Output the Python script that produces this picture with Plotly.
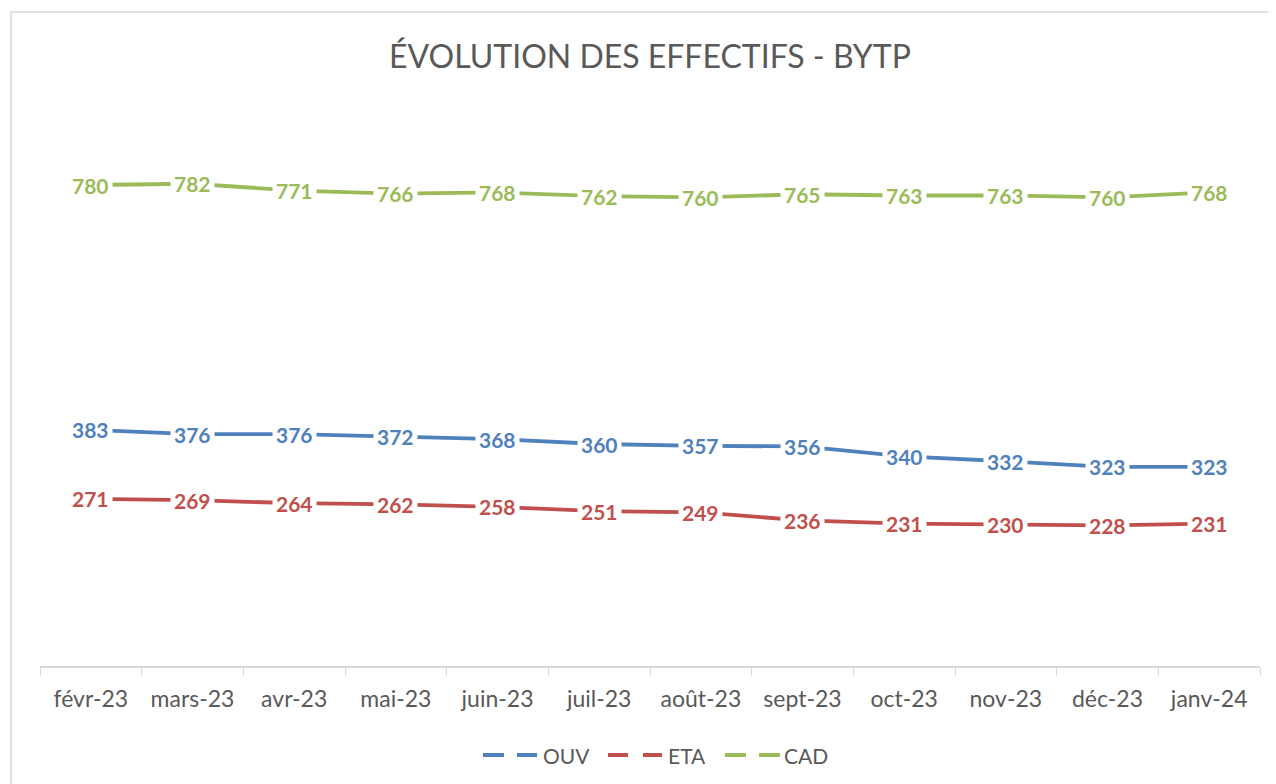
import plotly.graph_objects as go

months = ["févr-23", "mars-23", "avr-23", "mai-23", "juin-23", "juil-23",
          "août-23", "sept-23", "oct-23", "nov-23", "déc-23", "janv-24"]
ouv = [383, 376, 376, 372, 368, 360, 357, 356, 340, 332, 323, 323]
eta = [271, 269, 264, 262, 258, 251, 249, 236, 231, 230, 228, 231]
cad = [780, 782, 771, 766, 768, 762, 760, 765, 763, 763, 760, 768]

series = [("OUV", ouv, "#4F81BD"), ("ETA", eta, "#C0504D"), ("CAD", cad, "#9BBB59")]

FONT = "Lato, 'Open Sans', sans-serif"
GREY = "#595959"

# page has an 8px body margin; plot area target in screen px: x 40..1260, y 111..666
PL, PR, PT, PB = 40, 1260, 111, 666


def px2x(px):
    return (px - PL) / (PR - PL)


def px2y(py):
    return (PB - py) / (PB - PT)


fig = go.Figure()
annotations = []
shapes = []
for name, vals, col in series:
    fig.add_trace(go.Scatter(x=months, y=vals, mode="lines", name=name,
                             line=dict(color=col, width=3.8), showlegend=False,
                             hoverinfo="skip"))
    for m, v in zip(months, vals):
        annotations.append(dict(x=m, y=v, xref="x", yref="y", text=str(v),
                                showarrow=False, bgcolor="white", borderpad=3,
                                font=dict(family=FONT, size=21, color=col, weight="bold")))

# manual legend (two dashes + label per series)
legend_pos = [(483, 504, 517, 537, 541), (608, 628, 643, 662, 666), (725, 746, 759, 780, 782)]
LY = 755
for (name, vals, col), (a0, a1, b0, b1, tx) in zip(series, legend_pos):
    for s0, s1 in ((a0, a1), (b0, b1)):
        shapes.append(dict(type="line", xref="paper", yref="paper",
                           x0=px2x(s0), x1=px2x(s1), y0=px2y(LY), y1=px2y(LY),
                           line=dict(color=col, width=4)))
    annotations.append(dict(x=px2x(tx), y=px2y(LY), xref="paper", yref="paper",
                            xanchor="left", yanchor="middle", text=name, showarrow=False,
                            font=dict(family=FONT, size=21, color=GREY)))

shapes.append(dict(type="rect", xref="paper", yref="paper",
                   x0=px2x(11), x1=px2x(1290), y0=px2y(800), y1=px2y(12),
                   line=dict(color="#D9D9D9", width=1.5), fillcolor="rgba(0,0,0,0)",
                   layer="below"))

fig.update_layout(
    width=1276, height=784,
    margin=dict(l=PL - 8, r=1276 - (PR - 8), t=PT - 8, b=784 - (PB - 8)),
    paper_bgcolor="white", plot_bgcolor="white",
    showlegend=False,
    title=dict(text="ÉVOLUTION DES EFFECTIFS - BYTP", x=(650 - 8) / 1276, xanchor="center",
               y=1 - (57 - 8) / 784, yanchor="middle",
               font=dict(family=FONT, size=32, color=GREY)),
    xaxis=dict(type="category", range=[-0.5, 11.5], showline=True, linecolor="#D9D9D9",
               linewidth=1.5, ticks="outside", tickson="boundaries", ticklen=8,
               tickcolor="#D9D9D9", showgrid=False, zeroline=False,
               ticklabelstandoff=12,
               tickfont=dict(family=FONT, size=23, color=GREY)),
    yaxis=dict(range=[0, 900], visible=False, showgrid=False, zeroline=False),
    annotations=annotations,
    shapes=shapes,
)

fig.write_html("out.html")
